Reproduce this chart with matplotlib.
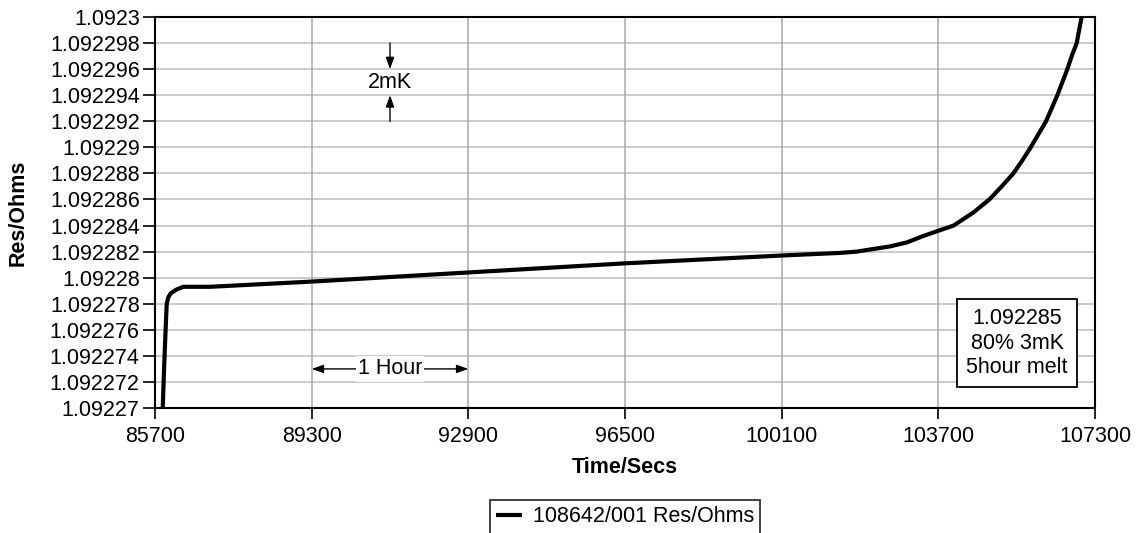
import numpy as np
import matplotlib
matplotlib.use("Agg")
import matplotlib.pyplot as plt
from matplotlib.ticker import FixedLocator, FuncFormatter

plt.rcParams["font.family"] = ["Liberation Sans", "DejaVu Sans"]

# melt curve, resistance logged against elapsed seconds
time_secs = [85877, 85907, 85937, 85969, 86006, 86061, 86199, 86350, 86964,
             89300, 92900, 96500, 100100, 101440, 101824, 102206, 102589,
             102972, 103355, 103700, 104050, 104504, 104872, 105155, 105423,
             105630, 105822, 105998, 106174, 106305, 106434, 106549, 106664,
             106764, 106879, 106940, 106993]
res_ohms = [1.09227, 1.0922729, 1.0922755, 1.092278, 1.0922785, 1.0922788,
            1.0922791, 1.0922793, 1.0922793, 1.0922797, 1.0922804, 1.0922811,
            1.0922817, 1.0922819, 1.092282, 1.0922822, 1.0922824, 1.0922827,
            1.0922832, 1.0922836, 1.092284, 1.092285, 1.092286, 1.092287,
            1.092288, 1.092289, 1.09229, 1.092291, 1.092292, 1.092293,
            1.092294, 1.092295, 1.092296, 1.092297, 1.092298, 1.0922991,
            1.0923]

x_ticks = [85700, 89300, 92900, 96500, 100100, 103700, 107300]
y_ticks = [1.09227, 1.092272, 1.092274, 1.092276, 1.092278, 1.09228,
           1.092282, 1.092284, 1.092286, 1.092288, 1.09229, 1.092292,
           1.092294, 1.092296, 1.092298, 1.0923]

series_name = "108642/001 Res/Ohms"
note_text = "1.092285\n80% 3mK\n5hour melt"

fs = 15.5

fig = plt.figure(figsize=(11.39, 5.33), dpi=100)
ax = fig.add_axes([0.1361, 0.2345, 0.8253, 0.7336])

for yt in y_ticks:
    ax.axhline(yt, color="#bdbdbd", lw=1.1, zorder=1)
for xt in x_ticks:
    ax.axvline(xt, color="#a8a8a8", lw=1.1, zorder=1)

ax.plot(time_secs, res_ohms, color="black", lw=3, solid_joinstyle="round",
        solid_capstyle="butt", label=series_name, zorder=3)

ax.set_xlim(x_ticks[0], x_ticks[-1])
ax.set_ylim(y_ticks[0], y_ticks[-1])
ax.xaxis.set_major_locator(FixedLocator(x_ticks))
ax.yaxis.set_major_locator(FixedLocator(y_ticks))
ax.xaxis.set_major_formatter(FuncFormatter(lambda v, p: f"{v:.0f}"))
ax.yaxis.set_major_formatter(
    FuncFormatter(lambda v, p: f"{v:.6f}".rstrip("0")))
ax.tick_params(axis="y", direction="out", length=9, width=1.2,
               labelsize=fs, colors="black", pad=2)
ax.tick_params(axis="x", direction="out", length=8, width=1.2,
               labelsize=fs, colors="black", pad=5)
for sp in ax.spines.values():
    sp.set_linewidth(1.5)
    sp.set_color("black")
    sp.set_zorder(4)

ax.set_xlabel("Time/Secs", fontsize=fs, fontweight="bold")
ax.set_ylabel("Res/Ohms", fontsize=fs, fontweight="bold")
ax.xaxis.set_label_coords(0.5, -0.125)
ax.yaxis.set_label_coords(-0.134, 0.5)

# "2mK" marker between two grid lines
arrow_kw = dict(arrowstyle="-|>,head_length=0.7,head_width=0.25",
                color="black", lw=1, shrinkA=0, shrinkB=0)
ax.annotate("", xy=(91100, 1.092296), xytext=(91100, 1.092298),
            arrowprops=arrow_kw, zorder=5)
ax.annotate("", xy=(91100, 1.092294), xytext=(91100, 1.092292),
            arrowprops=arrow_kw, zorder=5)
ax.text(91100, 1.092295, "2mK", ha="center", va="center", fontsize=fs,
        zorder=5)

# one hour span
ax.annotate("", xy=(89300, 1.092273), xytext=(92900, 1.092273),
            arrowprops=dict(arrowstyle="<|-|>,head_length=0.7,head_width=0.25",
                            color="black", lw=1, shrinkA=0, shrinkB=0),
            zorder=5)
ax.text(91100, 1.092273, "1 Hour", ha="center", va="center", fontsize=fs,
        zorder=6, bbox=dict(facecolor="white", edgecolor="none", pad=1.5))

ax.text(0.917, 0.166, note_text, transform=ax.transAxes, ha="center",
        va="center", fontsize=fs, linespacing=1.2, zorder=6,
        bbox=dict(facecolor="white", edgecolor="black", lw=1.3,
                  boxstyle="square,pad=0.45"))

leg = fig.legend(loc="upper center", bbox_to_anchor=(0.5487, 0.062),
                 fontsize=fs, frameon=True, fancybox=False, handlelength=1.2,
                 borderpad=0.3, handletextpad=0.5, borderaxespad=0)
leg.get_frame().set_edgecolor("black")
leg.get_frame().set_linewidth(1.3)

fig.savefig("out.png", dpi=100)
